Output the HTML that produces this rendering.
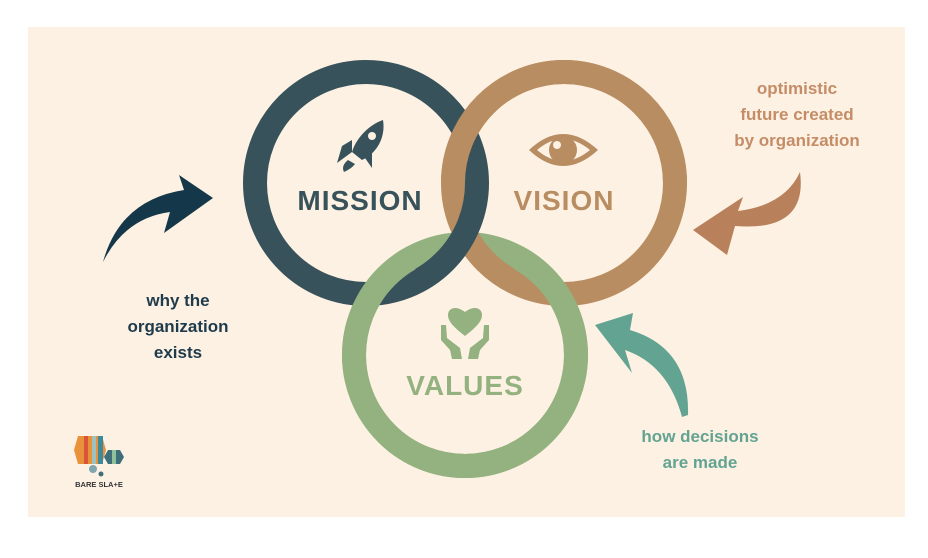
<!DOCTYPE html>
<html><head><meta charset="utf-8"><style>
html,body{margin:0;padding:0;background:#fff;}
body{width:928px;height:558px;overflow:hidden;}
svg{display:block;}
text{font-family:"Liberation Sans",sans-serif;font-weight:bold;}
</style></head><body>
<svg width="928" height="558" viewBox="0 0 928 558" xmlns="http://www.w3.org/2000/svg">
<defs>
<clipPath id="cTop"><rect x="0" y="0" width="928" height="183"/></clipPath>
<clipPath id="cVL"><polygon points="267,11 564,527 0,527 0,11"/></clipPath>
<clipPath id="cVR"><polygon points="663,11 366,527 928,527 928,11"/></clipPath>
</defs>
<rect x="28" y="27" width="877" height="490" fill="#FDF1E3"/>
<!-- base rings -->
<circle cx="465" cy="355" r="111" fill="none" stroke="#94B27F" stroke-width="24"/>
<circle cx="564" cy="183" r="111" fill="none" stroke="#B98D62" stroke-width="24"/>
<circle cx="366" cy="183" r="111" fill="none" stroke="#37525A" stroke-width="24"/>
<!-- weaving fixes -->
<circle cx="564" cy="183" r="111" fill="none" stroke="#B98D62" stroke-width="24" clip-path="url(#cTop)"/>
<circle cx="465" cy="355" r="111" fill="none" stroke="#94B27F" stroke-width="24" clip-path="url(#cVL)"/>
<circle cx="465" cy="355" r="111" fill="none" stroke="#94B27F" stroke-width="24" clip-path="url(#cVR)"/>

<!-- labels in circles -->
<text x="360" y="210" font-size="28" fill="#37525A" text-anchor="middle" letter-spacing="1">MISSION</text>
<text x="564" y="210" font-size="28" fill="#B98D62" text-anchor="middle" letter-spacing="1">VISION</text>
<text x="465" y="395" font-size="28" fill="#94B27F" text-anchor="middle" letter-spacing="1">VALUES</text>

<!-- rocket -->
<g fill="#37525A">
<path d="M383,120 C370,124 356,138 352,152 L362,160 C376,154 386,138 383,120 Z"/>
<path d="M352,140 L342,146 L337,163 L352,152 Z"/>
<path d="M372,150 L372,168 L365,158 Z"/>
<path d="M348,160 C343,164 342,168 344,172 C348,170 352,168 355,164 Z" />
</g>
<circle cx="372" cy="136" r="4" fill="#FDF1E3"/>
<!-- eye -->
<path d="M529,150 Q563,118 598,150 Q563,182 529,150 Z" fill="#B98D62"/>
<path d="M537,150 Q563,128 590,150 Q563,172 537,150 Z" fill="#FDF1E3"/>
<circle cx="563" cy="150" r="14" fill="#B98D62"/>
<circle cx="557" cy="145" r="4" fill="#FDF1E3"/>
<!-- hands heart -->
<g fill="#94B27F">
<path d="M465,336 C455,328 448,322 448,315 C448,308 456,305 465,312 C474,305 482,308 482,315 C482,322 475,328 465,336 Z"/>
<path d="M441,325 L446,325 L447,338 L460,348 L462,359 L452,359 L450,350 L441,340 Z"/>
<path d="M489,325 L484,325 L483,338 L470,348 L468,359 L478,359 L480,350 L489,340 Z"/>
</g>

<!-- arrows -->
<path d="M213,198 L179,175 L184,190 Q120,200 103,262 Q125,218 170,212 L164,233 Z" fill="#14384A"/>
<path d="M693,230 L743,197 L738,211 Q785,205 800,172 Q808,232 735,226 L727,255 Z" fill="#B8815C"/>
<path d="M595,325 L633,313 L630,330 Q690,348 688,415 L682,417 Q668,365 625,350 L632,373 Z" fill="#63A392"/>

<!-- side texts -->
<g font-size="17" text-anchor="middle">
<text x="178" y="306" fill="#1E3B4C">why the</text>
<text x="178" y="332" fill="#1E3B4C">organization</text>
<text x="178" y="358" fill="#1E3B4C">exists</text>
<text x="797" y="94" fill="#C48D67">optimistic</text>
<text x="797" y="120" fill="#C48D67">future created</text>
<text x="797" y="146" fill="#C48D67">by organization</text>
<text x="700" y="442" fill="#63A392">how decisions</text>
<text x="700" y="468" fill="#63A392">are made</text>
</g>

<!-- logo -->
<polygon points="78,436 102,436 106,450 102,464 78,464 74,450" fill="#E9923A"/>
<rect x="84" y="436" width="4" height="28" fill="#D9553A"/>
<rect x="92" y="436" width="4" height="28" fill="#9CC3C2"/>
<rect x="98" y="436" width="5" height="28" fill="#3F8A9A"/>
<polygon points="108,450 120,450 124,457 120,464 108,464 104,457" fill="#3E6E7A"/>
<rect x="112" y="450" width="4" height="14" fill="#8FC29A"/>
<circle cx="93" cy="469" r="4" fill="#7FA5AE"/>
<circle cx="101" cy="474" r="2.5" fill="#3E6E7A"/>
<text x="99" y="487" font-size="7.5" fill="#333" text-anchor="middle">BARE SLA+E</text>
</svg>
</body></html>
